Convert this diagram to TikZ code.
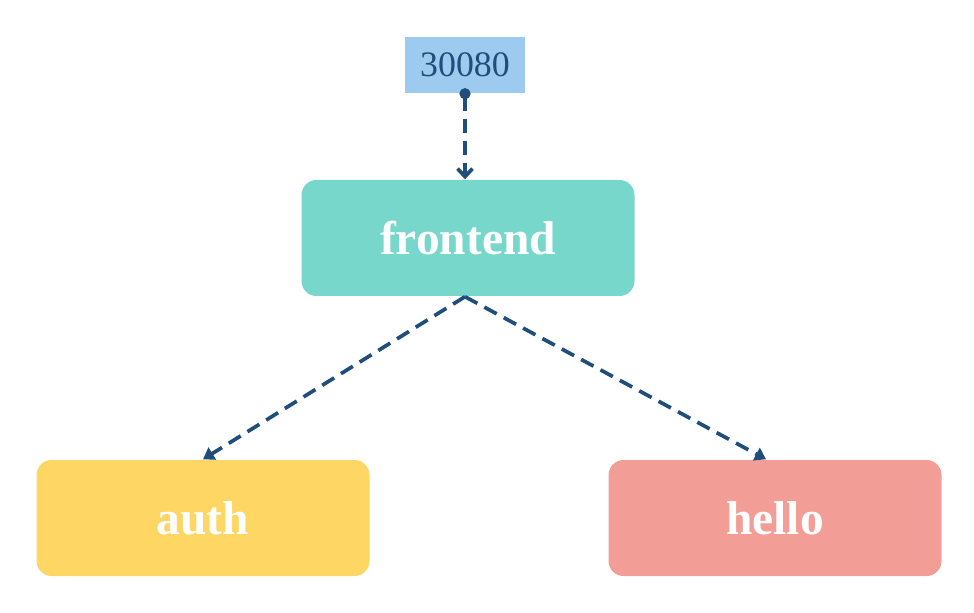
\documentclass[tikz,border=0pt]{standalone}
\usepackage{fontspec}
\setmainfont{Liberation Serif}
\usepackage{xcolor}
\usetikzlibrary{arrows.meta}

\definecolor{portblue}{HTML}{9DCBEF}
\definecolor{linkblue}{HTML}{1F4E7D}
\definecolor{frontgreen}{HTML}{77D7CB}
\definecolor{authyellow}{HTML}{FDD663}
\definecolor{hellored}{HTML}{F29E97}

\begin{document}
\begin{tikzpicture}[
  svc/.style={rounded corners=0.15cm,minimum width=3.33cm,minimum height=1.16cm,
    inner sep=0pt,text=white,font=\fontsize{13.5}{16}\selectfont\bfseries},
  link/.style={draw=linkblue,line width=1.05pt,dash pattern=on 0.14cm off 0.08cm}
]

\useasboundingbox (0,0) rectangle (9.74,6.12);

% port
\node[fill=portblue,minimum width=1.2cm,minimum height=0.56cm,inner sep=0pt,
  text=linkblue,font=\fontsize{10.2}{12}\selectfont] (port) at (4.65,5.47) {30080};

% services
\node[svc,fill=frontgreen] (frontend) at (4.68,3.74) {frontend};
\node[svc,fill=authyellow] (auth) at (2.03,0.94) {auth};
\node[svc,fill=hellored] (hello) at (7.75,0.94) {hello};

\coordinate (fin) at (port.south |- frontend.north);
\coordinate (fout) at (port.south |- frontend.south);

% links
\draw[link,{Circle[length=0.11cm,fill=linkblue]}-{Straight Barb[length=0.08cm,width=0.15cm]},
  shorten <=-0.055cm] (port.south) -- (fin);
\draw[link,-{Triangle[length=0.11cm,width=0.14cm]}] (fout) -- (auth.north);
\draw[link,-{Triangle[length=0.11cm,width=0.14cm]}] (fout) -- ([xshift=-0.09cm]hello.north);

\end{tikzpicture}
\end{document}
